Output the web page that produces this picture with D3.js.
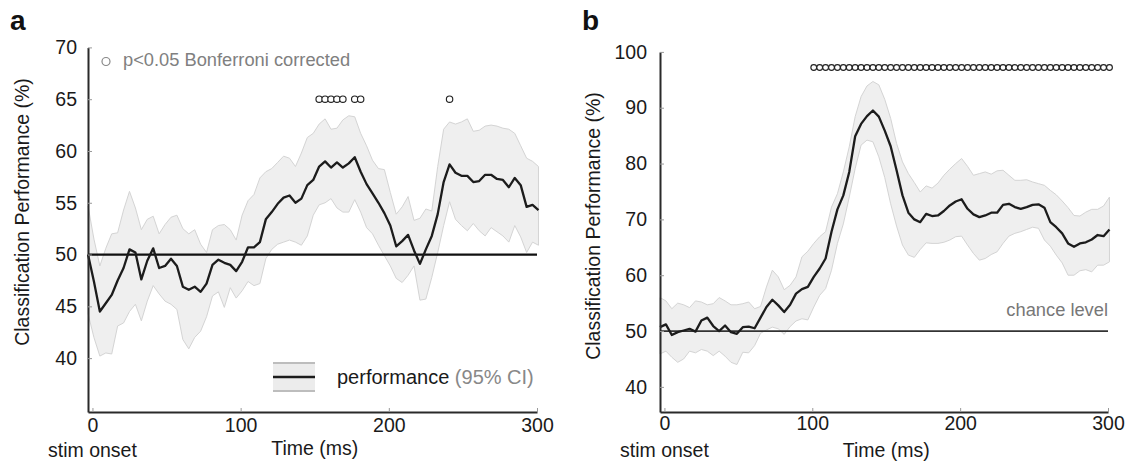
<!DOCTYPE html>
<html>
<head>
<meta charset="utf-8">
<script src="https://cdn.jsdelivr.net/npm/d3@7/dist/d3.min.js"></script>
<style>
  html, body { margin: 0; padding: 0; background: #fff; }
  svg { display: block; font-family: "Liberation Sans", Arial, Helvetica, sans-serif; }
</style>
</head>
<body>
<svg id="chart" width="1134" height="464"></svg>
<script>
// ---------------- DATA ----------------
// sample times (ms)
const timesMs = [-3,1,5,9,13,17,21,25,29,33,37,41,45,49,53,57,61,65,69,73,77,81,85,89,93,97,
  101,105,109,113,117,121,125,129,133,137,141,145,149,153,157,161,165,169,173,177,181,185,189,193,197,
  201,205,209,213,217,221,225,229,233,237,241,245,249,253,257,261,265,269,273,277,281,285,289,293,297,301];

// Panel a: classification performance (%)
const meanA = [50.0,47.4,44.5,45.3,46.1,47.5,48.7,50.5,50.2,47.6,
  49.4,50.6,48.7,48.9,49.6,48.9,46.9,46.6,46.9,46.4,
  47.2,49.0,49.5,49.2,49.0,48.4,49.3,50.7,50.7,51.2,
  53.4,54.1,54.9,55.5,55.7,55.0,55.4,56.7,57.2,58.5,
  59.0,58.4,58.9,58.4,58.8,59.4,58.0,56.8,55.9,55.0,
  54.0,52.8,50.8,51.3,51.9,50.4,49.1,50.5,51.8,53.9,
  57.0,58.7,57.9,57.6,57.6,57.0,57.1,57.7,57.7,57.3,
  57.2,56.5,57.4,56.7,54.6,54.8,54.3];
const upperA = [54.7,51.5,48.9,50.6,52.0,52.1,54.3,56.1,54.5,52.4,
  53.4,53.7,52.0,52.9,53.6,53.8,52.5,52.0,52.4,51.0,
  50.2,52.4,52.8,52.9,52.4,51.4,53.8,55.2,55.8,57.4,
  58.0,58.3,58.9,59.5,59.3,58.5,59.8,61.3,61.7,62.6,
  63.1,62.1,62.2,63.0,63.4,63.3,61.7,60.5,59.1,58.3,
  58.2,56.0,53.9,54.6,55.6,53.3,53.5,54.4,54.2,58.5,
  62.1,62.8,62.6,62.8,63.1,61.9,62.0,62.4,62.5,62.4,
  62.2,62.1,61.7,60.5,59.3,59.0,58.5];
const lowerA = [44.3,42.0,40.2,40.5,40.4,43.1,43.4,44.5,45.2,43.6,
  45.5,47.0,46.2,45.5,45.2,44.7,41.8,40.9,42.0,42.6,
  44.0,46.0,46.4,44.9,46.8,45.8,46.5,47.4,47.0,47.2,
  49.6,50.5,51.0,51.2,51.4,51.2,50.9,51.8,53.8,54.8,
  55.0,55.4,54.5,54.1,54.1,55.3,54.1,52.6,52.0,50.9,
  49.9,48.9,47.7,47.3,48.0,48.9,45.6,45.7,47.8,50.2,
  52.8,55.1,53.4,52.8,52.3,53.0,52.3,51.8,52.6,52.2,
  51.8,51.2,52.8,51.7,50.2,51.2,50.9];
const sigTimesA = [153,157,161,165,169,177,181,241];
const sigLevelA = 65;
const chanceA = 50;
const yTicksA = [40,45,50,55,60,65,70];

// Panel b: classification performance (%)
const meanB = [50.7,51.2,49.3,49.8,50.1,50.4,49.9,51.9,52.4,50.9,
  50.0,51.0,49.8,49.5,50.7,50.8,50.5,52.4,54.3,55.6,
  54.6,53.4,54.7,56.7,57.5,57.9,59.7,61.2,63.0,67.8,
  71.8,74.3,78.5,84.9,87.1,88.5,89.5,88.4,85.9,83.1,
  78.8,74.3,71.2,70.0,69.5,71.0,70.6,70.7,71.5,72.5,
  73.2,73.6,71.9,70.9,70.4,70.7,71.2,71.2,72.6,72.8,
  72.2,71.9,72.2,72.6,72.7,72.1,69.5,68.6,67.5,65.7,
  65.1,65.7,65.9,66.4,67.2,67.0,68.2];
const upperB = [56.0,55.4,54.0,55.0,54.7,54.2,55.4,55.2,54.7,54.9,
  56.0,55.4,54.7,54.7,54.9,55.2,54.0,54.4,57.9,60.9,
  59.7,57.4,58.2,59.7,63.3,64.3,65.7,66.9,67.8,72.2,
  74.6,78.5,83.0,88.4,92.0,93.9,94.7,94.1,91.5,88.1,
  83.6,80.3,78.2,76.6,74.9,76.0,75.6,76.5,77.9,79.0,
  80.0,80.9,79.5,77.9,78.2,78.5,78.1,78.7,78.8,77.9,
  77.0,77.0,77.1,76.7,76.4,76.1,75.2,74.4,73.3,72.1,
  70.7,70.6,71.3,71.8,71.8,72.4,74.0];
const lowerB = [45.9,46.4,45.3,44.4,45.0,46.4,46.1,46.7,46.4,45.6,
  46.4,45.5,44.4,44.0,46.2,46.1,47.4,49.6,50.2,50.7,
  50.4,49.4,50.8,51.8,52.2,52.0,54.3,56.4,57.6,60.9,
  65.7,69.2,74.0,79.1,83.3,84.2,83.9,81.2,77.5,72.8,
  68.8,65.4,63.6,63.2,64.6,65.8,65.7,65.7,65.9,66.3,
  66.9,67.0,65.4,63.9,62.7,63.0,63.7,64.2,65.7,67.0,
  67.5,67.8,68.2,68.6,68.4,66.3,65.2,63.6,62.2,60.0,
  60.0,60.8,61.0,60.6,61.8,61.8,62.4];
const sigTimesB = [101,105,109,113,117,121,125,129,133,137,141,145,149,153,157,161,165,169,173,177,181,185,189,193,197,
  201,205,209,213,217,221,225,229,233,237,241,245,249,253,257,261,265,269,273,277,281,285,289,293,297,301];
const sigLevelB = 97.2;
const chanceB = 50;
const yTicksB = [40,50,60,70,80,90,100];

const xTicks = [0,100,200,300];
const yTitle = "Classification Performance (%)";
const xTitle = "Time (ms)";
const onsetLabel = "stim onset";

// ---------------- DRAW ----------------
const svg = d3.select("#chart");
svg.append("rect").attr("width",1134).attr("height",464).attr("fill","#fff");

const FS = 19.5;

function panel(cfg) {
  const g = svg.append("g");
  const x = d3.scaleLinear().domain([-3,300]).range(cfg.xr);
  const y = d3.scaleLinear().domain(cfg.yd).range(cfg.yr);
  const rows = timesMs.map((t,i)=>({t, m: cfg.mean[i], u: cfg.upper[i], l: cfg.lower[i]}));

  // CI band
  g.append("path").datum(rows)
    .attr("d", d3.area().x(d=>x(d.t)).y0(d=>y(d.l)).y1(d=>y(d.u)))
    .attr("fill","#efefef").attr("stroke","#d4d4d4").attr("stroke-width",1);

  // chance line
  g.append("line")
    .attr("x1", cfg.xr[0]).attr("x2", cfg.xr[1])
    .attr("y1", y(cfg.chance)).attr("y2", y(cfg.chance))
    .attr("stroke", cfg.chanceColor).attr("stroke-width", cfg.chanceWidth);

  // mean line
  g.append("path").datum(rows)
    .attr("d", d3.line().x(d=>x(d.t)).y(d=>y(d.m)))
    .attr("fill","none").attr("stroke","#1c1c1c").attr("stroke-width",2.3)
    .attr("stroke-linejoin","round");

  // significance markers
  g.selectAll("circle.sig").data(cfg.sig).enter().append("circle")
    .attr("class","sig")
    .attr("cx", d=>x(d)).attr("cy", y(cfg.sigLevel)).attr("r", cfg.sigR)
    .attr("fill","#fff").attr("stroke","#222").attr("stroke-width",1.15);

  // axes
  const yAxis = d3.axisLeft(y).tickValues(cfg.yTicks).tickSize(-4).tickSizeOuter(0).tickPadding(cfg.yPad);
  const ya = g.append("g").attr("transform",`translate(${cfg.xr[0]},0)`).call(yAxis);
  const xAxis = d3.axisBottom(x).tickValues(xTicks).tickSize(-4).tickSizeOuter(0).tickPadding(cfg.xPad);
  const xa = g.append("g").attr("transform",`translate(0,${cfg.yr[0]})`).call(xAxis);
  [ya, xa].forEach(a => {
    a.select(".domain").attr("stroke","#2a2a2a").attr("stroke-width",2);
    a.selectAll(".tick line").attr("stroke","#999").attr("stroke-width",1);
    a.selectAll(".tick text").attr("fill","#1a1a1a").style("font-size",FS+"px")
      .style("font-family",'"Liberation Sans", Arial, sans-serif');
  });

  // titles
  g.append("text").attr("transform",`translate(${cfg.yTitleX},${cfg.yTitleY}) rotate(-90)`)
    .attr("text-anchor","middle").attr("fill","#1a1a1a").style("font-size",FS+"px").text(yTitle);
  g.append("text").attr("x", x(150)).attr("y", cfg.xTitleY).attr("text-anchor","middle")
    .attr("fill","#1a1a1a").style("font-size",FS+"px").text(xTitle);
  g.append("text").attr("x", x(0)).attr("y", 457).attr("text-anchor","middle")
    .attr("fill","#1a1a1a").style("font-size",FS+"px").text(onsetLabel);
  g.append("text").attr("x", cfg.labelX).attr("y", 30).attr("fill","#111")
    .style("font-size","28px").style("font-weight","bold").text(cfg.label);
  return {x, y, g};
}

const A = panel({
  xr:[88,537], yd:[34.8,70], yr:[412,47.4],
  mean:meanA, upper:upperA, lower:lowerA, chance:chanceA,
  chanceColor:"#111", chanceWidth:2.2,
  sig:sigTimesA, sigLevel:sigLevelA, sigR:3.2, yTicks:yTicksA,
  yPad:11, xPad:6, yTitleX:29, yTitleY:212, xTitleY:455, label:"a", labelX:10
});
const B = panel({
  xr:[660,1108], yd:[35.5,100], yr:[412,51.9],
  mean:meanB, upper:upperB, lower:lowerB, chance:chanceB,
  chanceColor:"#333", chanceWidth:1.8,
  sig:sigTimesB, sigLevel:sigLevelB, sigR:2.9, yTicks:yTicksB,
  yPad:13, xPad:4.5, yTitleX:600, yTitleY:226, xTitleY:456.5, label:"b", labelX:582
});

// Panel a top legend
A.g.append("circle").attr("cx",106).attr("cy",61.5).attr("r",4)
  .attr("fill","none").attr("stroke","#888").attr("stroke-width",1.2);
A.g.append("text").attr("x",123).attr("y",66).attr("fill","#808080")
  .style("font-size","18.3px").text("p<0.05 Bonferroni corrected");

// Panel a bottom legend
A.g.append("rect").attr("x",273).attr("y",362).attr("width",42).attr("height",30).attr("fill","#ececec");
A.g.append("line").attr("x1",273).attr("x2",315).attr("y1",363).attr("y2",363).attr("stroke","#bdbdbd").attr("stroke-width",2);
A.g.append("line").attr("x1",273).attr("x2",315).attr("y1",391).attr("y2",391).attr("stroke","#bdbdbd").attr("stroke-width",2);
A.g.append("line").attr("x1",273).attr("x2",315).attr("y1",377).attr("y2",377).attr("stroke","#1c1c1c").attr("stroke-width",2.5);
const lt = A.g.append("text").attr("x",337).attr("y",384).style("font-size","20px");
lt.append("tspan").attr("fill","#1a1a1a").text("performance ");
lt.append("tspan").attr("fill","#888").text("(95% CI)");

// Panel b chance label
B.g.append("text").attr("x",1108).attr("y",316).attr("text-anchor","end")
  .attr("fill","#777").style("font-size","18.3px").text("chance level");
</script>
</body>
</html>
